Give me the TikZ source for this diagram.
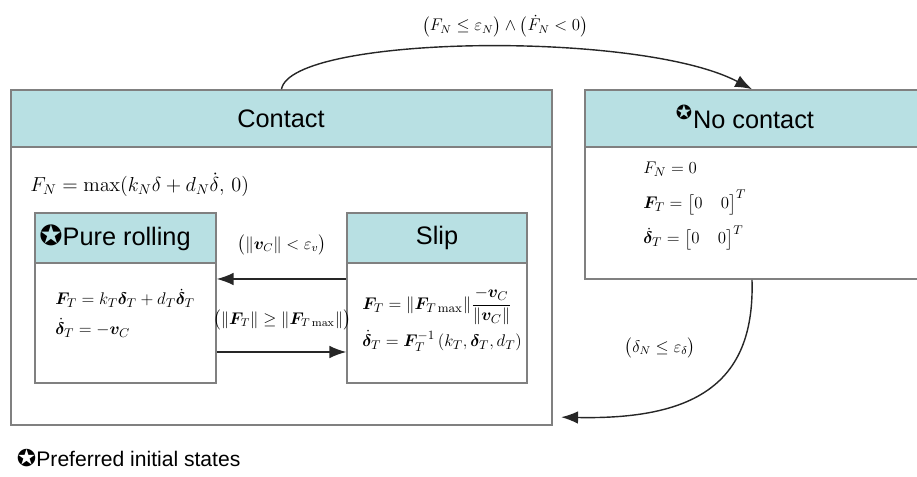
\documentclass[tikz,border=0pt]{standalone}
\usepackage{amsmath}
\usepackage[no-math]{fontspec}
\usepackage{bm}
\newfontfamily\arialfont{Liberation Sans}
\newfontfamily\starfont{DejaVu Sans}
\usetikzlibrary{fit,arrows.meta}
\definecolor{headblue}{RGB}{184,224,227}
\definecolor{boxgray}{RGB}{128,128,128}
\newcommand{\prefstar}{{\starfont\scalebox{1.1}{✪}}}

\begin{document}
\begin{tikzpicture}[x=0.025cm, y=-0.025cm,
  box/.style={draw=boxgray, line width=1.1pt, inner sep=0pt},
  head/.style={box, fill=headblue},
  title/.style={font=\arialfont\fontsize{18}{20}\selectfont},
  eqn/.style={font=\fontsize{13}{18}\selectfont, align=left, inner sep=0pt},
  cond/.style={font=\fontsize{12}{14}\selectfont, inner sep=0pt},
  arr/.style={-{Latex[length=12pt,width=9pt]}, line width=1pt, draw=black!85}]
  \useasboundingbox (0,0) rectangle (917,477);

  % outer states
  \node[box, fit={(11,90) (552,425)}] (contact) {};
  \node[head, fit={(11,90) (552,147)}] (contact-head) {};
  \node[box, fit={(585,90) (919,279)}] (nocontact) {};
  \node[head, fit={(585,90) (919,147)}] (nocontact-head) {};

  % inner states of contact
  \node[box, fit={(35,213) (216,383)}] (rolling) {};
  \node[head, fit={(35,213) (216,263)}] (rolling-head) {};
  \node[box, fit={(347,213) (527,383)}] (slip) {};
  \node[head, fit={(347,213) (527,263)}] (slip-head) {};

  % titles
  \node[title] (contact-title) at (281,119) {Contact};
  \node[title] (nocontact-title) at (745,117) {\textsuperscript{\prefstar}No contact};
  \node[title] (rolling-title) at (115,238) {\prefstar Pure rolling};
  \node[title] (slip-title) at (437,238) {Slip};

  % equations
  \node[eqn, font=\fontsize{14}{18}\selectfont, anchor=west] (contact-eq) at (30,185)
    {$F_N = \max(k_N\delta + d_N\dot{\delta},\, 0)$};
  \node[eqn, anchor=west] (nocontact-eq) at (643,206)
    {$F_N = 0$\\[7pt] $\bm{F}_T = \bigl[0\quad 0\bigr]^T$\\[7pt] $\dot{\bm{\delta}}_T = \bigl[0\quad 0\bigr]^T$};
  \node[eqn, anchor=west] (rolling-eq) at (55,313)
    {$\bm{F}_T = k_T\bm{\delta}_T + d_T\dot{\bm{\delta}}_T$\\[3pt] $\dot{\bm{\delta}}_T = -\bm{v}_C$};
  \node[eqn, anchor=west] (slip-eq) at (362,320)
    {$\bm{F}_T = \|\bm{F}_{T\,\mathrm{max}}\|\dfrac{-\bm{v}_C}{\|\bm{v}_C\|}$\\[3pt]
     $\dot{\bm{\delta}}_T = \bm{F}_T^{-1}\left(k_T, \bm{\delta}_T, d_T\right)$};

  % transition conditions
  \node[cond] (cond-lift) at (505,26)
    {$\bigl(F_N \le \varepsilon_N\bigr)\wedge\bigl(\dot{F}_N < 0\bigr)$};
  \node[cond] (cond-stick) at (282,245) {$\bigl(\|\bm{v}_C\| < \varepsilon_v\bigr)$};
  \node[cond] (cond-slide) at (282,320)
    {$\bigl(\|\bm{F}_T\| \ge \|\bm{F}_{T\,\mathrm{max}}\|\bigr)$};
  \node[cond] (cond-touch) at (660,348) {$\bigl(\delta_N \le \varepsilon_\delta\bigr)$};

  % transitions
  \draw[arr] (slip.west |- 0,279) -- (rolling.east |- 0,279);
  \draw[arr] (rolling.east |- 0,352) -- (slip.west |- 0,352);
  \draw[arr] (contact.north) .. controls (291,35) and (640,30) .. (nocontact.north);
  \draw[arr, shorten >=6pt] (nocontact.south) .. controls (755,380) and (700,420) .. (contact.east |- 0,417);

  % legend
  \node[font=\arialfont\fontsize{15}{17}\selectfont, anchor=west] (legend) at (12,458)
    {\prefstar Preferred initial states};
\end{tikzpicture}
\end{document}
